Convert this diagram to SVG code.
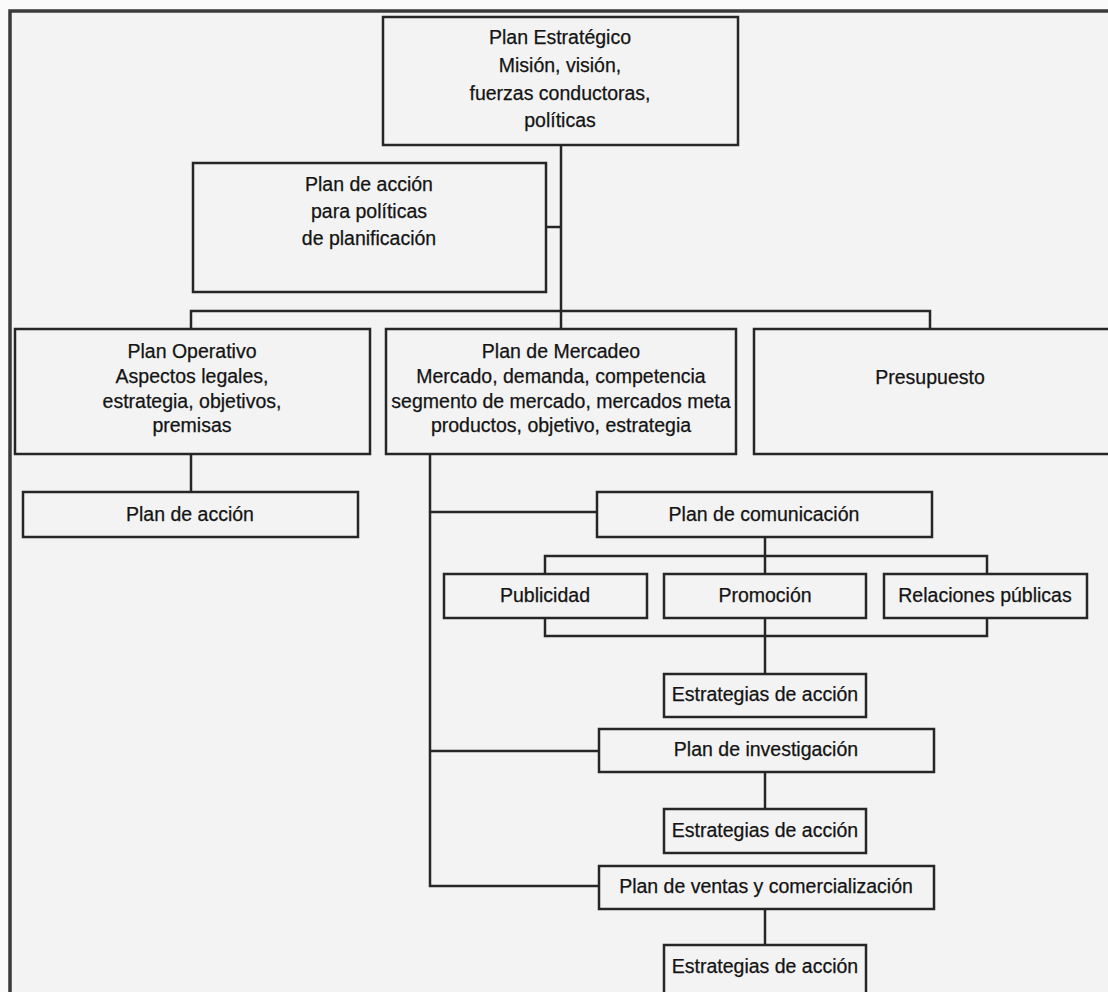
<svg xmlns="http://www.w3.org/2000/svg" width="1108" height="992" viewBox="0 0 1108 992">
<style>
.box{fill:#f3f3f3;stroke:#262626;stroke-width:2.5}
.ln{fill:none;stroke:#262626;stroke-width:2.5}
text{font-family:"Liberation Sans",Arial,sans-serif;font-size:19.5px;fill:#141414;stroke:#141414;stroke-width:0.25;text-anchor:middle}
</style>
<rect x="0" y="0" width="1108" height="992" fill="#fafafa"/>
<rect x="10" y="11" width="1110" height="990" fill="#f3f3f3"/>
<path d="M10,992 V11 H1108" fill="none" stroke="#3a3a3a" stroke-width="3.5"/>
<g id="connectors">
<path class="ln" d="M561,145 V329"/>
<path class="ln" d="M546,227 H561"/>
<path class="ln" d="M191,329 V311 H930 V329"/>
<path class="ln" d="M191,454 V492"/>
<path class="ln" d="M430,454 V886 H599"/>
<path class="ln" d="M430,512 H597"/>
<path class="ln" d="M430,751 H599"/>
<path class="ln" d="M765,537 V574"/>
<path class="ln" d="M545,574 V556 H987 V574"/>
<path class="ln" d="M545,618 V636 H987 V618"/>
<path class="ln" d="M765,618 V674"/>
<path class="ln" d="M765,772 V809"/>
<path class="ln" d="M765,909 V945"/>
</g>
<g id="plan-estrategico">
<rect class="box" x="383" y="17" width="355" height="128"/>
<text x="560" y="44">Plan Estratégico</text>
<text x="560" y="72">Misión, visión,</text>
<text x="560" y="100">fuerzas conductoras,</text>
<text x="560" y="127">políticas</text>
</g>
<g id="plan-accion-politicas">
<rect class="box" x="193" y="163" width="353" height="129"/>
<text x="369" y="191">Plan de acción</text>
<text x="369" y="218">para políticas</text>
<text x="369" y="245">de planificación</text>
</g>
<g id="plan-operativo">
<rect class="box" x="15" y="329" width="355" height="125"/>
<text x="192" y="358">Plan Operativo</text>
<text x="192" y="383">Aspectos legales,</text>
<text x="192" y="408">estrategia, objetivos,</text>
<text x="192" y="432">premisas</text>
</g>
<g id="plan-mercadeo">
<rect class="box" x="386" y="329" width="350" height="125"/>
<text x="561" y="358">Plan de Mercadeo</text>
<text x="561" y="383">Mercado, demanda, competencia</text>
<text x="561" y="408">segmento de mercado, mercados meta</text>
<text x="561" y="432">productos, objetivo, estrategia</text>
</g>
<g id="presupuesto">
<rect class="box" x="754" y="329" width="400" height="125"/>
<text x="930" y="384">Presupuesto</text>
</g>
<g id="plan-accion">
<rect class="box" x="23" y="492" width="335" height="45"/>
<text x="190" y="521">Plan de acción</text>
</g>
<g id="plan-comunicacion">
<rect class="box" x="597" y="492" width="335" height="45"/>
<text x="764" y="521">Plan de comunicación</text>
</g>
<g id="publicidad">
<rect class="box" x="444" y="574" width="203" height="44"/>
<text x="545" y="602">Publicidad</text>
</g>
<g id="promocion">
<rect class="box" x="664" y="574" width="202" height="44"/>
<text x="765" y="602">Promoción</text>
</g>
<g id="relaciones-publicas">
<rect class="box" x="884" y="574" width="203" height="44"/>
<text x="985" y="602">Relaciones públicas</text>
</g>
<g id="estrategias-1">
<rect class="box" x="664" y="674" width="202" height="43"/>
<text x="765" y="701">Estrategias de acción</text>
</g>
<g id="plan-investigacion">
<rect class="box" x="599" y="729" width="335" height="43"/>
<text x="766" y="756">Plan de investigación</text>
</g>
<g id="estrategias-2">
<rect class="box" x="664" y="809" width="202" height="44"/>
<text x="765" y="837">Estrategias de acción</text>
</g>
<g id="plan-ventas">
<rect class="box" x="599" y="866" width="335" height="43"/>
<text x="766" y="893">Plan de ventas y comercialización</text>
</g>
<g id="estrategias-3">
<rect class="box" x="664" y="945" width="202" height="70"/>
<text x="765" y="973">Estrategias de acción</text>
</g>
</svg>
